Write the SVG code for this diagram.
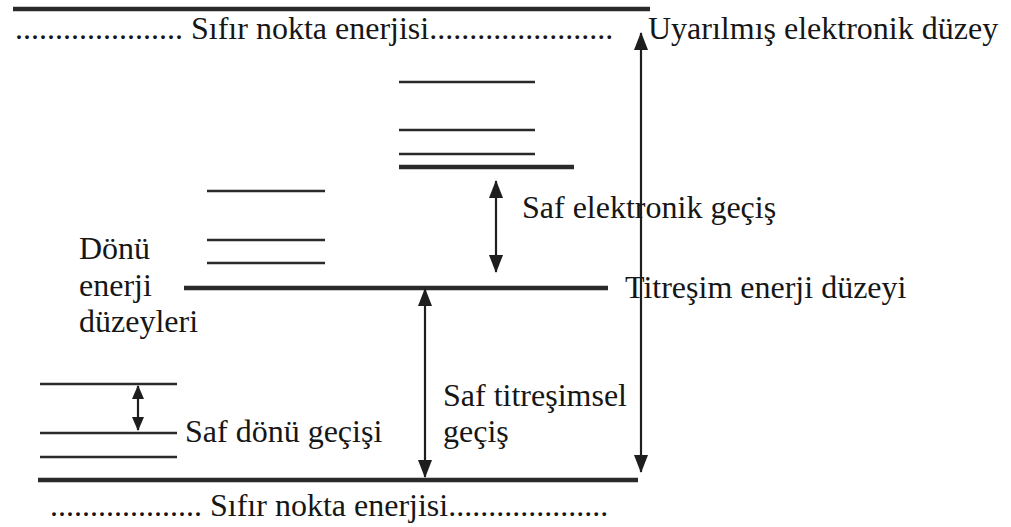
<svg xmlns="http://www.w3.org/2000/svg" width="1011" height="527" viewBox="0 0 1011 527">
<defs>
<style>
text{font-family:"Liberation Serif","Times New Roman",serif;font-size:32px;fill:#161616}
.lv{stroke:#2a2a2a;stroke-width:2.5;fill:none}
.thick{stroke:#2a2a2a;stroke-width:4.5;fill:none}
.arr{stroke:#1e1e1e;stroke-width:2.2;fill:none;marker-start:url(#ah);marker-end:url(#ah)}
.arrs{stroke:#1e1e1e;stroke-width:2.2;fill:none;marker-start:url(#ahs);marker-end:url(#ahs)}
</style>
<marker id="ah" markerUnits="userSpaceOnUse" markerWidth="18" markerHeight="14" refX="17" refY="7" orient="auto-start-reverse" viewBox="0 0 18 14">
<path d="M0,0 L18,7 L0,14 z" fill="#1e1e1e"/>
</marker>
<marker id="ahs" markerUnits="userSpaceOnUse" markerWidth="14" markerHeight="12" refX="13" refY="6" orient="auto-start-reverse" viewBox="0 0 14 12">
<path d="M0,0 L14,6 L0,12 z" fill="#1e1e1e"/>
</marker>
</defs>
<rect width="1011" height="527" fill="#ffffff"/>

<g id="excited-level">
<line class="thick" x1="13" y1="9" x2="650" y2="9"/>
<text x="15" y="39">..................... Sıfır nokta enerjisi.......................</text>
<text x="648" y="39">Uyarılmış elektronik düzey</text>
</g>

<g id="upper-rotational-levels">
<line class="lv" x1="399" y1="82" x2="535" y2="82"/>
<line class="lv" x1="399" y1="130" x2="535" y2="130"/>
<line class="lv" x1="399" y1="154" x2="535" y2="154"/>
<line class="thick" x1="399" y1="167" x2="574" y2="167"/>
</g>

<g id="middle-rotational-levels">
<line class="lv" x1="207" y1="191" x2="325" y2="191"/>
<line class="lv" x1="207" y1="240" x2="325" y2="240"/>
<line class="lv" x1="207" y1="263" x2="325" y2="263"/>
<text x="79" y="259">Dönü</text>
<text x="79" y="296">enerji</text>
<text x="79" y="332">düzeyleri</text>
</g>

<g id="vibrational-level">
<line class="thick" x1="184" y1="288" x2="608" y2="288"/>
<text x="625" y="298">Titreşim enerji düzeyi</text>
</g>

<g id="lower-rotational-levels">
<line class="lv" x1="40" y1="384" x2="177" y2="384"/>
<line class="lv" x1="40" y1="433" x2="177" y2="433"/>
<line class="lv" x1="40" y1="457" x2="177" y2="457"/>
</g>

<g id="ground-level">
<line class="thick" x1="38" y1="480" x2="638" y2="480"/>
<text x="50" y="516">................... Sıfır nokta enerjisi....................</text>
</g>

<g id="connectors">
<line class="arr" x1="641" y1="472" x2="641" y2="33"/>
<line class="arr" x1="496" y1="181" x2="496" y2="272"/>
<line class="arr" x1="425" y1="477" x2="425" y2="289"/>
<line class="arrs" x1="138" y1="386" x2="138" y2="430"/>
</g>

<g id="labels">
<text x="522" y="218">Saf elektronik geçiş</text>
<text x="443" y="406">Saf titreşimsel</text>
<text x="443" y="442">geçiş</text>
<text x="185" y="442">Saf dönü geçişi</text>
</g>
</svg>
